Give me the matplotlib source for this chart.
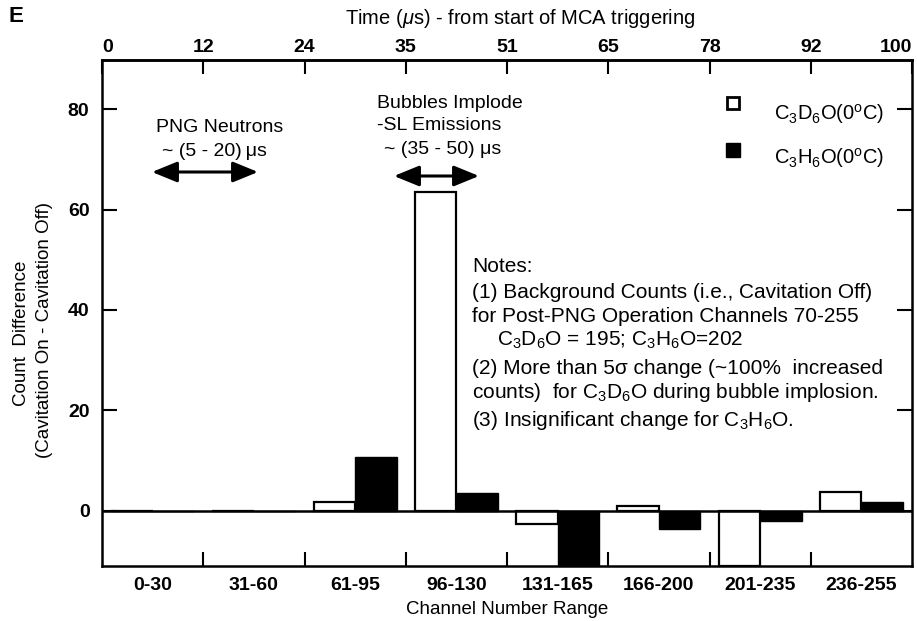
import numpy as np
import matplotlib
matplotlib.use("Agg")
import matplotlib.pyplot as plt

plt.rcParams['font.family'] = ['Liberation Sans', 'DejaVu Sans']
plt.rcParams['mathtext.fontset'] = 'custom'
plt.rcParams['mathtext.rm'] = 'Liberation Sans'
plt.rcParams['mathtext.it'] = 'Liberation Sans:italic'
plt.rcParams['mathtext.bf'] = 'Liberation Sans:bold'

# ---- data ----
categories = ['0-30', '31-60', '61-95', '96-130', '131-165', '166-200', '201-235', '236-255']
c3d6o = [0.0, 0.0, 1.7, 63.5, -2.6, 1.0, -11.0, 3.8]
c3h6o = [0.0, 0.0, 10.7, 3.6, -11.0, -3.7, -2.1, 1.8]
time_labels = ['0', '12', '24', '35', '51', '65', '78', '92', '100']
yticks = [0, 20, 40, 60, 80]

W, H = 917, 621
fig = plt.figure(figsize=(W / 100, H / 100), dpi=100)

def fp(x, y):
    return (x / W, 1 - y / H)

ax = fig.add_axes([102 / W, 1 - 566 / H, 810 / W, 506 / H])

x = np.arange(len(categories))
bw = 0.41
ax.bar(x - 0.205, c3d6o, bw, facecolor='white', edgecolor='black', linewidth=1.6, zorder=3)
ax.bar(x + 0.205, c3h6o, bw, facecolor='black', edgecolor='black', linewidth=1.0, zorder=3)
ax.axhline(0, color='black', linewidth=1.8, zorder=4)

ax.set_xlim(-0.5, len(categories) - 0.5)
ax.set_ylim(-11, 89.8)

for s in ax.spines.values():
    s.set_linewidth(1.8)

tfs = 14
# y ticks
ax.set_yticks(yticks)
ax.set_yticklabels([str(v) for v in yticks], fontsize=tfs, fontweight='bold')
ax.tick_params(axis='y', direction='in', length=11, width=1.5, right=True, pad=9)

# bottom ticks: labels at centers, tick marks at boundaries
ax.set_xticks(x)
ax.set_xticklabels(categories, fontsize=tfs, fontweight='bold')
ax.tick_params(axis='x', which='major', length=0, pad=8)
ax.set_xticks(np.arange(0.5, len(categories) - 0.5, 1.0), minor=True)
ax.tick_params(axis='x', which='minor', direction='in', length=10, width=1.5)
ax.set_xlabel('Channel Number Range', fontsize=13.5, labelpad=5)

# top time axis
sec = ax.secondary_xaxis('top')
sec.set_xticks(np.arange(-0.5, len(categories), 1.0))
sec.set_xticklabels(time_labels, fontsize=tfs, fontweight='bold')
sec.tick_params(axis='x', direction='in', length=10, width=1.5, pad=3)
sec.spines['top'].set_linewidth(1.8)
sec.get_xticklabels()[-1].set_horizontalalignment('right')
sec.get_xticklabels()[0].set_horizontalalignment('left')

fig.text(*fp(520, 18), 'Time ($\\mu$s) - from start of MCA triggering', fontsize=14.5,
         ha='center', va='center')
fig.text(*fp(16, 16), 'E', fontsize=16, fontweight='bold', ha='center', va='center')

# y label
fig.text(*fp(22, 333), 'Count  Difference', rotation=90, fontsize=13.5, ha='center', va='center')
fig.text(*fp(45, 330), '(Cavitation On - Cavitation Off)', rotation=90, fontsize=13.5,
         ha='center', va='center')

# annotations
afs = 14
fig.text(*fp(220, 127), 'PNG Neutrons', fontsize=afs, ha='center', va='center')
fig.text(*fp(214, 152), '~ (5 - 20)\u2009\u03bcs', fontsize=afs, ha='center', va='center')
fig.text(*fp(377, 103), 'Bubbles Implode', fontsize=afs, ha='left', va='center')
fig.text(*fp(377, 126), '-SL Emissions', fontsize=afs, ha='left', va='center')
fig.text(*fp(384, 149), '~ (35 - 50) \u03bcs', fontsize=afs, ha='left', va='center')

arrow_kw = dict(arrowstyle='<|-|>,head_length=1.1,head_width=0.45', color='black',
                lw=2.2, shrinkA=0, shrinkB=0, mutation_scale=14)
ax.annotate('', xy=fp(258, 172), xytext=fp(152, 172), xycoords='figure fraction',
            textcoords='figure fraction', arrowprops=arrow_kw)
ax.annotate('', xy=fp(479, 176), xytext=fp(394, 176), xycoords='figure fraction',
            textcoords='figure fraction', arrowprops=arrow_kw)

# legend (manual)
ox, oy = fp(733, 103)
fig.add_artist(plt.Line2D([ox], [oy], marker='s', markersize=9, markerfacecolor='white',
                          markeredgecolor='black', markeredgewidth=2, transform=fig.transFigure))
fx, fy = fp(733, 150)
fig.add_artist(plt.Line2D([fx], [fy], marker='s', markersize=10, markerfacecolor='black',
                          markeredgecolor='black', transform=fig.transFigure))
lfs = 14.5
fig.text(*fp(774, 114), 'C$_\\mathrm{3}$D$_\\mathrm{6}$O(0$^\\mathrm{o}$C)', fontsize=lfs,
         ha='left', va='center')
fig.text(*fp(774, 158), 'C$_\\mathrm{3}$H$_\\mathrm{6}$O(0$^\\mathrm{o}$C)', fontsize=lfs,
         ha='left', va='center')

# notes
nfs = 15
fig.text(*fp(472, 267), 'Notes:', fontsize=nfs, ha='left', va='center')
fig.text(*fp(472, 293), '(1) Background Counts (i.e., Cavitation Off)', fontsize=nfs,
         ha='left', va='center')
fig.text(*fp(472, 316), 'for Post-PNG Operation Channels 70-255', fontsize=nfs,
         ha='left', va='center')
fig.text(*fp(497, 340), 'C$_\\mathrm{3}$D$_\\mathrm{6}$O = 195; C$_\\mathrm{3}$H$_\\mathrm{6}$O=202',
         fontsize=nfs, ha='left', va='center')
fig.text(*fp(472, 368), '(2) More than 5\u03c3 change (~100%  increased', fontsize=nfs,
         ha='left', va='center')
fig.text(*fp(472, 393), 'counts)  for C$_\\mathrm{3}$D$_\\mathrm{6}$O during bubble implosion.',
         fontsize=nfs, ha='left', va='center')
fig.text(*fp(472, 421), '(3) Insignificant change for C$_\\mathrm{3}$H$_\\mathrm{6}$O.',
         fontsize=nfs, ha='left', va='center')

fig.savefig('out.png', dpi=100)
